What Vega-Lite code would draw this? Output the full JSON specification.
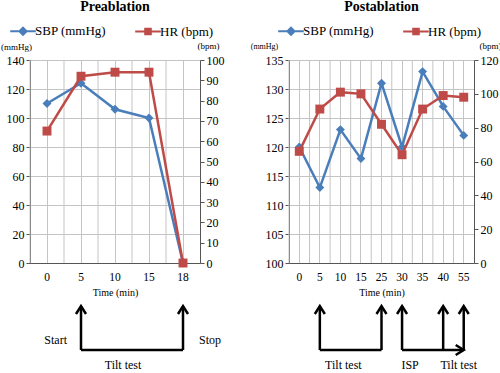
{
  "$schema": "https://vega.github.io/schema/vega-lite/v6.json",
  "padding": 0,
  "background": "white",
  "config": {
    "font": "Liberation Serif",
    "view": {"stroke": null},
    "axis": {"labelFont": "Liberation Serif", "titleFont": "Liberation Serif", "labelColor": "#000", "titleColor": "#000", "domainColor": "#555", "tickColor": "#555", "gridColor": "#c4c4c4", "titleFontWeight": "normal"},
    "legend": {"labelFont": "Liberation Serif"}
  },
  "spacing": 26,
  "resolve": {"scale": {"x": "independent", "y": "independent", "color": "independent"}},
  "hconcat": [
    {
      "spacing": 3,
      "resolve": {"scale": {"x": "shared", "y": "independent", "color": "independent"}, "axis": {"x": "independent"}},
      "vconcat": [
        {
          "width": 170, "height": 203,
          "title": {"text": "Preablation", "font": "Liberation Serif", "fontSize": 14, "fontWeight": "bold", "color": "#000", "offset": 8},
          "data": {"values": [
            {"time": "0", "sbp": 110, "hr": 65},
            {"time": "5", "sbp": 124, "hr": 92},
            {"time": "10", "sbp": 106, "hr": 94},
            {"time": "15", "sbp": 100, "hr": 94},
            {"time": "18", "sbp": 0, "hr": 0}
          ]},
          "encoding": {
            "x": {"field": "time", "type": "nominal", "scale": {"type": "band", "domain": ["0", "5", "10", "15", "18"], "paddingInner": 0, "paddingOuter": 0},
              "axis": {"title": "Time (min)", "titleFontSize": 10, "titlePadding": 5, "labelAngle": 0, "labelFontSize": 11.5, "labelPadding": 8, "ticks": false, "grid": true}}
          },
          "layer": [
            {"mark": {"type": "rule", "color": "#c4c4c4", "strokeWidth": 1}, "encoding": {"x": {"field": "time", "type": "nominal", "bandPosition": 0}}},
            {
              "encoding": {
                "y": {"field": "sbp", "type": "quantitative", "scale": {"domain": [0, 140], "nice": false},
                  "axis": {"orient": "left", "values": [0, 20, 40, 60, 80, 100, 120, 140], "grid": true, "tickSize": 4, "labelPadding": 2, "labelFontSize": 12, "title": "(mmHg)", "titleAngle": 0, "titleX": -14, "titleY": -14, "titleAlign": "center", "titleBaseline": "middle", "titleFontSize": 9}},
                "color": {"datum": "SBP (mmHg)", "type": "nominal", "scale": {"domain": ["SBP (mmHg)", "HR (bpm)"], "range": ["#4a7ebb", "#be4b48"]},
                  "legend": {"title": null, "orient": "none", "legendX": -16, "legendY": -38, "direction": "horizontal", "symbolSize": 256, "labelFont": "Liberation Serif", "labelFontSize": 13, "labelColor": "#000", "labelOffset": 3, "columnPadding": 24,
                    "encode": {"symbols": {"update": {
                      "shape": {"signal": "datum.value === 'SBP (mmHg)' ? 'M-1.6,0L1.6,0M0,-0.45L0.45,0L0,0.45L-0.45,0Z' : 'M-1.6,0L1.6,0M-0.35,-0.35L0.35,-0.35L0.35,0.35L-0.35,0.35Z'"},
                      "stroke": {"signal": "datum.value === 'SBP (mmHg)' ? '#4a7ebb' : '#be4b48'"},
                      "fill": {"signal": "datum.value === 'SBP (mmHg)' ? '#4a7ebb' : '#be4b48'"},
                      "strokeWidth": {"value": 2}, "opacity": {"value": 1}}}}}}
              },
              "layer": [
                {"mark": {"type": "line", "strokeWidth": 2.5}},
                {"mark": {"type": "point", "shape": "diamond", "filled": true, "size": 80, "opacity": 1}}
              ]
            },
            {
              "encoding": {
                "y": {"field": "hr", "type": "quantitative", "scale": {"domain": [0, 100], "nice": false},
                  "axis": {"orient": "right", "values": [0, 10, 20, 30, 40, 50, 60, 70, 80, 90, 100], "grid": false, "tickSize": 4, "labelPadding": 2, "labelFontSize": 12, "title": "(bpm)", "titleAngle": 0, "titleX": 8, "titleY": -15, "titleAlign": "center", "titleBaseline": "middle", "titleFontSize": 9}},
                "color": {"datum": "HR (bpm)", "type": "nominal"}
              },
              "layer": [
                {"mark": {"type": "line", "strokeWidth": 2.5}},
                {"mark": {"type": "square", "size": 80, "opacity": 1}}
              ]
            }
          ],
          "resolve": {"scale": {"y": "independent"}}
        },
        {
          "width": 170, "height": 68,
          "layer": [
            {
              "data": {"values": [{"time": "5"}, {"time": "18"}]},
              "mark": {"type": "rule", "strokeWidth": 2.5, "color": "#000"},
              "encoding": {
                "x": {"field": "time", "type": "nominal", "scale": {"domain": ["0", "5", "10", "15", "18"]}, "axis": null},
                "y": {"datum": 20, "type": "quantitative", "scale": {"domain": [0, 68], "nice": false}, "axis": null},
                "y2": {"datum": 64}
              }
            },
            {
              "data": {"values": [{"time": "5"}, {"time": "18"}]},
              "mark": {"type": "point", "shape": "M-1,1.6L0,0L1,1.6", "filled": false, "size": 100, "strokeWidth": 2.5, "color": "#000", "opacity": 1, "strokeJoin": "miter"},
              "encoding": {
                "x": {"field": "time", "type": "nominal", "axis": null},
                "y": {"datum": 64, "type": "quantitative", "axis": null}
              }
            },
            {
              "data": {"values": [{"start": "5", "end": "18"}]},
              "mark": {"type": "rule", "strokeWidth": 2.5, "color": "#000"},
              "encoding": {
                "x": {"field": "start", "type": "nominal", "axis": null},
                "x2": {"field": "end"},
                "y": {"datum": 20, "type": "quantitative", "axis": null}
              }
            },
            {
              "data": {"values": [{"time": "5", "label": "Start"}]},
              "mark": {"type": "text", "align": "right", "dx": -14, "fontSize": 12, "font": "Liberation Serif", "color": "#000"},
              "encoding": {"x": {"field": "time", "type": "nominal", "axis": null}, "y": {"datum": 30, "type": "quantitative", "axis": null}, "text": {"field": "label"}}
            },
            {
              "data": {"values": [{"time": "18", "label": "Stop"}]},
              "mark": {"type": "text", "align": "left", "dx": 16, "fontSize": 12, "font": "Liberation Serif", "color": "#000"},
              "encoding": {"x": {"field": "time", "type": "nominal", "axis": null}, "y": {"datum": 30, "type": "quantitative", "axis": null}, "text": {"field": "label"}}
            },
            {
              "data": {"values": [{"time": "10", "label": "Tilt test"}]},
              "mark": {"type": "text", "align": "center", "dx": 8, "fontSize": 12, "font": "Liberation Serif", "color": "#000"},
              "encoding": {"x": {"field": "time", "type": "nominal", "axis": null}, "y": {"datum": 5, "type": "quantitative", "axis": null}, "text": {"field": "label"}}
            }
          ]
        }
      ]
    },
    {
      "spacing": 3,
      "resolve": {"scale": {"x": "shared", "y": "independent", "color": "independent"}, "axis": {"x": "independent"}},
      "vconcat": [
        {
          "width": 185, "height": 203,
          "title": {"text": "Postablation", "font": "Liberation Serif", "fontSize": 14, "fontWeight": "bold", "color": "#000", "offset": 8},
          "data": {"values": [
            {"time": "0", "sbp": 120, "hr": 66},
            {"time": "5", "sbp": 113, "hr": 91},
            {"time": "10", "sbp": 123, "hr": 101},
            {"time": "15", "sbp": 118, "hr": 100},
            {"time": "25", "sbp": 131, "hr": 82},
            {"time": "30", "sbp": 120, "hr": 64},
            {"time": "35", "sbp": 133, "hr": 91},
            {"time": "40", "sbp": 127, "hr": 99},
            {"time": "55", "sbp": 122, "hr": 98}
          ]},
          "encoding": {
            "x": {"field": "time", "type": "nominal", "scale": {"type": "band", "domain": ["0", "5", "10", "15", "25", "30", "35", "40", "55"], "paddingInner": 0, "paddingOuter": 0},
              "axis": {"title": "Time (min)", "titleFontSize": 10, "titlePadding": 5, "labelAngle": 0, "labelFontSize": 11.5, "labelPadding": 8, "ticks": false, "grid": true}}
          },
          "layer": [
            {"mark": {"type": "rule", "color": "#c4c4c4", "strokeWidth": 1}, "encoding": {"x": {"field": "time", "type": "nominal", "bandPosition": 0}}},
            {
              "encoding": {
                "y": {"field": "sbp", "type": "quantitative", "scale": {"domain": [100, 135], "nice": false, "zero": false},
                  "axis": {"orient": "left", "values": [100, 105, 110, 115, 120, 125, 130, 135], "grid": true, "tickSize": 4, "labelPadding": 2, "labelFontSize": 12, "title": "(mmHg)", "titleAngle": 0, "titleX": -25, "titleY": -14, "titleAlign": "center", "titleBaseline": "middle", "titleFontSize": 8}},
                "color": {"datum": "SBP (mmHg)", "type": "nominal", "scale": {"domain": ["SBP (mmHg)", "HR (bpm)"], "range": ["#4a7ebb", "#be4b48"]},
                  "legend": {"title": null, "orient": "none", "legendX": -7, "legendY": -38, "direction": "horizontal", "symbolSize": 256, "labelFont": "Liberation Serif", "labelFontSize": 13, "labelColor": "#000", "labelOffset": 3, "columnPadding": 24,
                    "encode": {"symbols": {"update": {
                      "shape": {"signal": "datum.value === 'SBP (mmHg)' ? 'M-1.6,0L1.6,0M0,-0.45L0.45,0L0,0.45L-0.45,0Z' : 'M-1.6,0L1.6,0M-0.35,-0.35L0.35,-0.35L0.35,0.35L-0.35,0.35Z'"},
                      "stroke": {"signal": "datum.value === 'SBP (mmHg)' ? '#4a7ebb' : '#be4b48'"},
                      "fill": {"signal": "datum.value === 'SBP (mmHg)' ? '#4a7ebb' : '#be4b48'"},
                      "strokeWidth": {"value": 2}, "opacity": {"value": 1}}}}}}
              },
              "layer": [
                {"mark": {"type": "line", "strokeWidth": 2.5}},
                {"mark": {"type": "point", "shape": "diamond", "filled": true, "size": 80, "opacity": 1}}
              ]
            },
            {
              "encoding": {
                "y": {"field": "hr", "type": "quantitative", "scale": {"domain": [0, 120], "nice": false},
                  "axis": {"orient": "right", "values": [0, 20, 40, 60, 80, 100, 120], "grid": false, "tickSize": 4, "labelPadding": 2, "labelFontSize": 12, "title": "(bpm)", "titleAngle": 0, "titleX": 16, "titleY": -15, "titleAlign": "center", "titleBaseline": "middle", "titleFontSize": 9}},
                "color": {"datum": "HR (bpm)", "type": "nominal"}
              },
              "layer": [
                {"mark": {"type": "line", "strokeWidth": 2.5}},
                {"mark": {"type": "square", "size": 80, "opacity": 1}}
              ]
            }
          ],
          "resolve": {"scale": {"y": "independent"}}
        },
        {
          "width": 185, "height": 68,
          "layer": [
            {
              "data": {"values": [{"time": "5"}, {"time": "25"}, {"time": "30"}, {"time": "40"}, {"time": "55"}]},
              "mark": {"type": "rule", "strokeWidth": 2.5, "color": "#000"},
              "encoding": {
                "x": {"field": "time", "type": "nominal", "scale": {"domain": ["0", "5", "10", "15", "25", "30", "35", "40", "55"]}, "axis": null},
                "y": {"datum": 20, "type": "quantitative", "scale": {"domain": [0, 68], "nice": false}, "axis": null},
                "y2": {"datum": 64}
              }
            },
            {
              "data": {"values": [{"time": "5"}, {"time": "25"}, {"time": "30"}, {"time": "40"}, {"time": "55"}]},
              "mark": {"type": "point", "shape": "M-1,1.6L0,0L1,1.6", "filled": false, "size": 100, "strokeWidth": 2.5, "color": "#000", "opacity": 1, "strokeJoin": "miter"},
              "encoding": {
                "x": {"field": "time", "type": "nominal", "axis": null},
                "y": {"datum": 64, "type": "quantitative", "axis": null}
              }
            },
            {
              "data": {"values": [{"start": "5", "end": "25"}, {"start": "30", "end": "55"}]},
              "mark": {"type": "rule", "strokeWidth": 2.5, "color": "#000"},
              "encoding": {
                "x": {"field": "start", "type": "nominal", "axis": null},
                "x2": {"field": "end"},
                "y": {"datum": 20, "type": "quantitative", "axis": null}
              }
            },
            {
              "data": {"values": [{"time": "55"}]},
              "mark": {"type": "point", "shape": "M-1.6,-1L0,0L-1.6,1", "filled": false, "size": 100, "strokeWidth": 2.5, "color": "#000", "opacity": 1, "strokeJoin": "miter"},
              "encoding": {
                "x": {"field": "time", "type": "nominal", "axis": null},
                "y": {"datum": 20, "type": "quantitative", "axis": null}
              }
            },
            {
              "data": {"values": [{"time": "10", "label": "Tilt test"}]},
              "mark": {"type": "text", "align": "center", "dx": 3, "fontSize": 12, "font": "Liberation Serif", "color": "#000"},
              "encoding": {"x": {"field": "time", "type": "nominal", "axis": null}, "y": {"datum": 5, "type": "quantitative", "axis": null}, "text": {"field": "label"}}
            },
            {
              "data": {"values": [{"time": "30", "label": "ISP"}]},
              "mark": {"type": "text", "align": "center", "dx": 8, "fontSize": 12, "font": "Liberation Serif", "color": "#000"},
              "encoding": {"x": {"field": "time", "type": "nominal", "axis": null}, "y": {"datum": 5, "type": "quantitative", "axis": null}, "text": {"field": "label"}}
            },
            {
              "data": {"values": [{"time": "55", "label": "Tilt test"}]},
              "mark": {"type": "text", "align": "center", "dx": -5, "fontSize": 12, "font": "Liberation Serif", "color": "#000"},
              "encoding": {"x": {"field": "time", "type": "nominal", "axis": null}, "y": {"datum": 5, "type": "quantitative", "axis": null}, "text": {"field": "label"}}
            }
          ]
        }
      ]
    }
  ]
}
